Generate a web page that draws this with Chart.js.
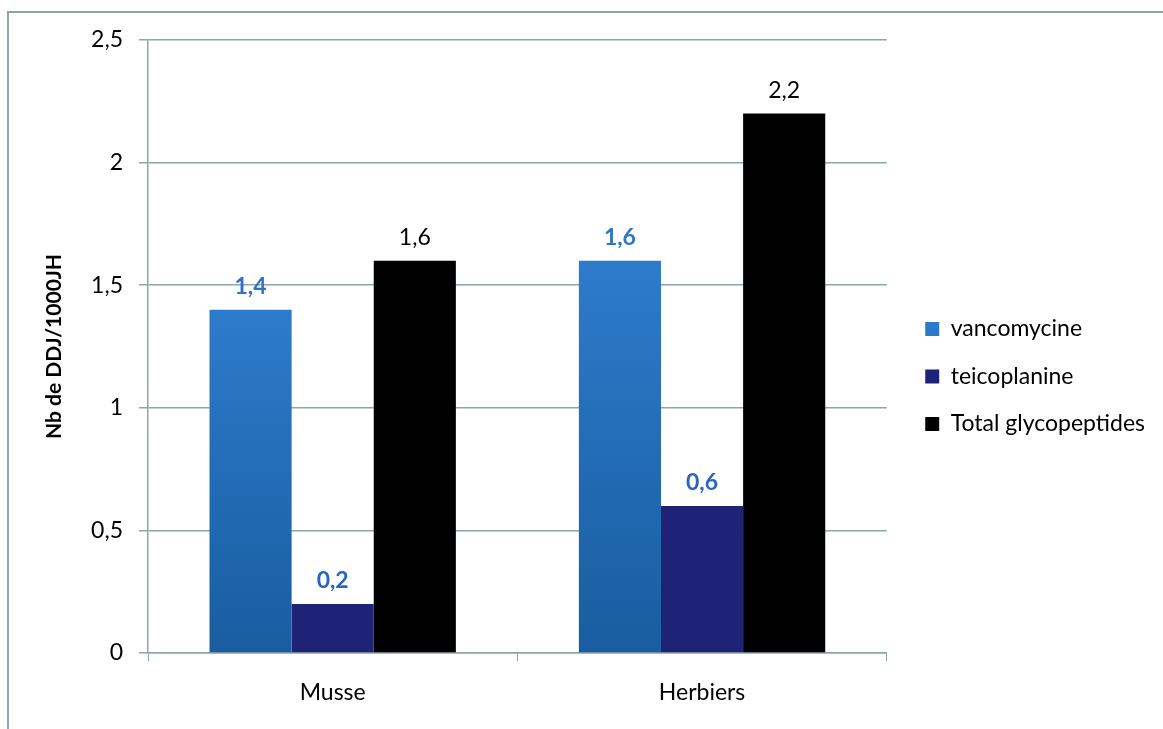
<!DOCTYPE html>
<html>
<head>
<meta charset="utf-8">
<script src="https://cdn.jsdelivr.net/npm/chart.js@4/dist/chart.umd.min.js"></script>
<style>
  html, body { margin: 0; padding: 0; background: #fff; }
  #wrap { position: relative; width: 1163px; height: 729px; }
  #frame { position: absolute; left: 7px; top: 11px; right: -5px; bottom: -5px;
           border-left: 2px solid #8ea3ac; border-top: 2px solid #8ea3ac; pointer-events: none; }
  canvas { position: absolute; left: 0; top: 0; }
</style>
</head>
<body>
<div id="wrap">
  <canvas id="graph" width="1163" height="729"></canvas>
  <div id="frame"></div>
</div>
<script>
var sites = ['Musse', 'Herbiers'];
var vancomycine = [1.4, 1.6];
var teicoplanine = [0.2, 0.6];
var totalGlyco = [1.6, 2.2];
var yTicks = [0, 0.5, 1, 1.5, 2, 2.5];

var gridColor = '#8ea3ac';
var fontName = 'Lato, "Open Sans", sans-serif';

function virgule(v) {
  return String(v).replace('.', ',');
}

// degrade bleu de la vancomycine, calcule pour chaque barre
function vancoFill(ctx) {
  var chart = ctx.chart;
  if (!chart.chartArea || !chart.scales.y || ctx.parsed === undefined) return '#2a74c4';
  var top = chart.scales.y.getPixelForValue(ctx.parsed.y);
  var bottom = chart.scales.y.getPixelForValue(0);
  var g = chart.ctx.createLinearGradient(0, top, 0, bottom);
  g.addColorStop(0, '#2d7bcb');
  g.addColorStop(1, '#185d9f');
  return g;
}

// etiquettes au dessus des barres
var valeursPlugin = {
  id: 'valeurs',
  afterDatasetsDraw: function (chart) {
    var c = chart.ctx;
    chart.data.datasets.forEach(function (ds, i) {
      var meta = chart.getDatasetMeta(i);
      meta.data.forEach(function (bar, j) {
        c.save();
        c.font = (ds.labelBold ? 'bold ' : '') + '23px ' + fontName;
        c.fillStyle = ds.labelColor;
        c.textAlign = 'center';
        c.textBaseline = 'middle';
        c.fillText(virgule(ds.data[j]), bar.x, bar.y - 23);
        c.restore();
      });
    });
  }
};

// decale la legende un peu vers la droite
var legendeDroite = {
  id: 'legendeDroite',
  afterLayout: function (chart) {
    if (chart.legend) {
      chart.legend.left += 14;
      chart.legend.right += 14;
    }
  }
};

var graph = document.getElementById('graph');
var chart = new Chart(graph, {
  type: 'bar',
  data: {
    labels: sites,
    datasets: [{
      label: 'vancomycine',
      data: vancomycine,
      backgroundColor: vancoFill,
      labelColor: '#2e74c6',
      labelBold: true
    }, {
      label: 'teicoplanine',
      data: teicoplanine,
      backgroundColor: '#1f2377',
      labelColor: '#2a66bd',
      labelBold: true
    }, {
      label: 'Total glycopeptides',
      data: totalGlyco,
      backgroundColor: '#000000',
      labelColor: '#000000',
      labelBold: false
    }]
  },
  options: {
    responsive: false,
    animation: false,
    categoryPercentage: 0.667,
    barPercentage: 1.0,
    layout: { padding: { top: 40, left: 0, right: 22, bottom: 16 } },
    plugins: {
      tooltip: { enabled: false },
      legend: {
        position: 'right',
        align: 'center',
        labels: {
          boxWidth: 14,
          boxHeight: 14,
          padding: 24.5,
          color: '#000',
          font: { family: fontName, size: 23 }
        }
      }
    },
    scales: {
      x: {
        afterFit: function (axis) { axis.height = 60; },
        grid: { display: true, drawOnChartArea: false, drawTicks: true, tickLength: 8, color: gridColor },
        border: { color: gridColor, width: 1.5 },
        ticks: { color: '#000', padding: 18, font: { family: fontName, size: 23 } }
      },
      y: {
        min: 0,
        max: 2.5,
        afterFit: function (axis) { axis.width = 148; },
        afterBuildTicks: function (axis) {
          axis.ticks = yTicks.map(function (v) { return { value: v }; });
        },
        grid: { color: gridColor, lineWidth: 1.5, tickLength: 9 },
        border: { color: gridColor, width: 1.5 },
        ticks: {
          color: '#000',
          padding: 16,
          font: { family: fontName, size: 23 },
          callback: function (v) { return virgule(v); }
        },
        title: {
          display: true,
          text: 'Nb de DDJ/1000JH',
          color: '#000',
          padding: { top: 42, bottom: 0 },
          font: { family: fontName, size: 21, weight: 'bold' }
        }
      }
    }
  },
  plugins: [valeursPlugin, legendeDroite]
});
</script>
</body>
</html>
